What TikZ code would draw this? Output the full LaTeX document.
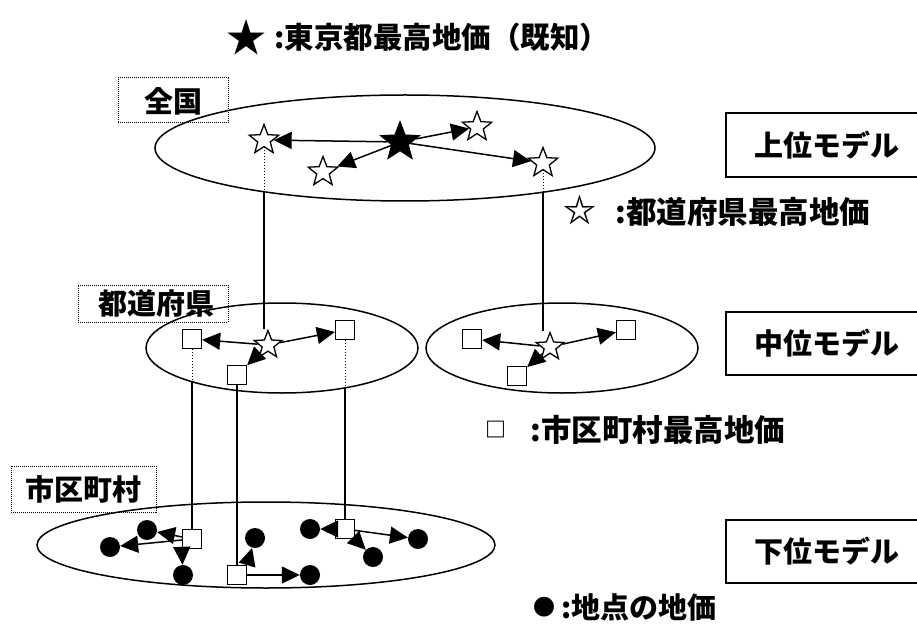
\documentclass[tikz,border=0pt]{standalone}
\usepackage{fontspec}
\setmainfont{Noto Sans CJK JP}
\usetikzlibrary{shapes.geometric,arrows.meta}
\begin{document}
\begin{tikzpicture}[x=1pt,y=-1pt,
  ell/.style={draw,line width=1.5pt},
  ostar/.style={star,star points=5,star point ratio=2.35,draw,fill=white,line width=1.3pt,minimum size=31pt,inner sep=0pt},
  bstar/.style={ostar,fill=black,minimum size=40pt},
  sq/.style={draw,fill=white,line width=1.3pt,minimum size=19pt,inner sep=0pt},
  dot/.style={circle,fill=black,minimum size=20pt,inner sep=0pt},
  arr/.style={line width=1.5pt,-{Triangle[length=18pt,width=17pt]}},
  vl/.style={line width=1.3pt},
  vd/.style={line width=1pt,dotted},
  lab/.style={draw,line width=1pt,dash pattern=on 1pt off 1pt,inner sep=0pt},
  txt/.style={inner sep=0pt,font=\fontsize{29}{32}\selectfont\bfseries},
  ltxt/.style={inner sep=0pt,font=\fontsize{30.5}{32}\selectfont\bfseries},
  box/.style={line width=1.3pt}
]
\useasboundingbox (0,0) rectangle (917,628);

% ellipses
\draw[ell] (405,148) ellipse [x radius=250pt, y radius=53pt];
\draw[ell] (282,348) ellipse [x radius=136pt, y radius=45pt];
\draw[ell] (562,348) ellipse [x radius=136pt, y radius=45pt];
\draw[ell] (266,545) ellipse [x radius=229pt, y radius=43pt];

% level labels
\node[lab,minimum width=110pt,minimum height=45pt] (lz) at (173,100.5) {};
\node[txt] (lzt) at (173,101) {全国};
\node[lab,minimum width=150pt,minimum height=37pt] (lt) at (153,303.5) {};
\node[txt] (ltt) at (156,303.5) {都道府県};
\node[lab,minimum width=145pt,minimum height=46pt] (ls) at (83.5,489) {};
\node[txt] (lst) at (83.5,489) {市区町村};

% top level
\node[bstar] (B) at (400,142) {};
\node[ostar] (t1) at (264,140) {};
\node[ostar] (t2) at (323,172) {};
\node[ostar] (t3) at (477,127) {};
\node[ostar] (t4) at (543,163) {};
\draw[arr] (B) -- (t1);
\draw[arr] (B) -- (t2);
\draw[arr] (B) -- (t3);
\draw[arr] (B) -- (t4);

% middle level
\node[ostar,minimum size=29pt] (m1) at (268,345) {};
\node[sq] (q1) at (192,339) {};
\node[sq] (q2) at (345,330) {};
\node[sq] (q3) at (237,375) {};
\node[ostar,minimum size=29pt] (m2) at (550,347) {};
\node[sq] (q4) at (472,339) {};
\node[sq] (q5) at (626,330) {};
\node[sq] (q6) at (517,376) {};
\draw[arr] (m1) -- (q1);
\draw[arr] (m1) -- (q2);
\draw[arr] (m1) -- (q3);
\draw[arr] (m2) -- (q4);
\draw[arr] (m2) -- (q5);
\draw[arr] (m2) -- (q6);

% lower level
\node[sq] (A) at (192,539) {};
\node[sq] (Bq) at (237,575) {};
\node[sq] (C) at (345,529) {};
\node[dot] (d1) at (147,530) {};
\node[dot] (d2) at (110,547) {};
\node[dot] (d3) at (183,575) {};
\node[dot] (d4) at (255,538) {};
\node[dot] (d5) at (310,575) {};
\node[dot] (d6) at (310,529) {};
\node[dot] (d7) at (418,539) {};
\node[dot] (d8) at (373,557) {};
\draw[arr] (A) -- (d1);
\draw[arr] (A) -- (d2);
\draw[arr] (A.south west) -- (d3);
\draw[arr] (Bq.north east) -- (d4);
\draw[arr] (Bq) -- (d5);
\draw[arr] (C) -- (d6);
\draw[arr] (C) -- (d7);
\draw[arr] (C.south east) -- (d8);

% vertical links
\draw[vd] (t1.south) -- (t1.south |- 0,192) coordinate (e1);
\draw[vl] (e1) -- (e1 |- m1.north);
\draw[vd] (t4.south) -- (t4.south |- 0,192) coordinate (e2);
\draw[vl] (e2) -- (e2 |- m2.north);
\draw[vd] (q1.south) -- (q1.south |- 0,382) coordinate (e3);
\draw[vl] (e3) -- (A.north);
\draw[vl] (q3.south) -- (Bq.north);
\draw[vd] (q2.south) -- (q2.south |- 0,388) coordinate (e4);
\draw[vl] (e4) -- (C.north);

% model boxes
\draw[box] (917,113) -- (726,113) -- (726,177) -- (917,177);
\node[txt] (mu) at (827,145) {上位モデル};
\draw[box] (917,312) -- (726,312) -- (726,375) -- (917,375);
\node[txt] (mm) at (827,343) {中位モデル};
\draw[box] (917,520) -- (726,520) -- (726,583) -- (917,583);
\node[txt] (ml) at (827,551) {下位モデル};

% legends
\node[inner sep=0pt,font=\fontsize{40}{40}\selectfont] (k1) at (246,37) {★};
\node[inner sep=0pt,font=\fontsize{29.5}{30}\selectfont\bfseries] (k1t) at (442,37) {:東京都最高地価（既知）};
\node[inner sep=0pt,font=\fontsize{33}{33}\selectfont\bfseries] (k2) at (580,210) {☆};
\node[ltxt] (k2t) at (743,212) {:都道府県最高地価};
\node[inner sep=0pt,font=\fontsize{21}{21}\selectfont\bfseries] (k3) at (496,430) {□};
\node[ltxt] (k3t) at (658,430) {:市区町村最高地価};
\node[inner sep=0pt,font=\fontsize{22}{22}\selectfont] (k4) at (544,607) {●};
\node[txt] (k4t) at (639,607) {:地点の地価};
\end{tikzpicture}
\end{document}
